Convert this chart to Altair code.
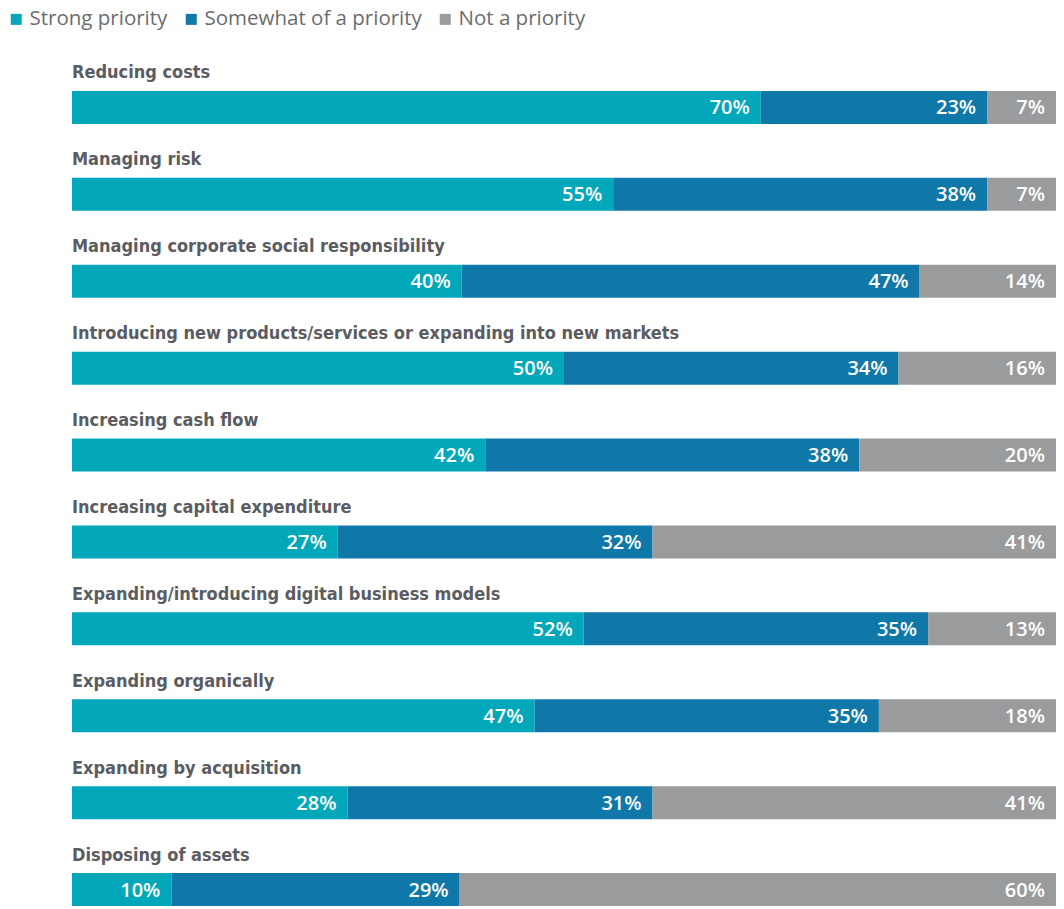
import altair as alt
import pandas as pd

categories = [
    "Reducing costs",
    "Managing risk",
    "Managing corporate social responsibility",
    "Introducing new products/services or expanding into new markets",
    "Increasing cash flow",
    "Increasing capital expenditure",
    "Expanding/introducing digital business models",
    "Expanding organically",
    "Expanding by acquisition",
    "Disposing of assets",
]
series = ["Strong priority", "Somewhat of a priority", "Not a priority"]
strong = [70, 55, 40, 50, 42, 27, 52, 47, 28, 10]
somewhat = [23, 38, 47, 34, 38, 32, 35, 35, 31, 29]
not_priority = [7, 7, 14, 16, 20, 41, 13, 18, 41, 60]
colors = ["#02A8BA", "#1077A9", "#9A9B9D"]

rows = []
for i, c in enumerate(categories):
    for j, (s, vals) in enumerate(zip(series, [strong, somewhat, not_priority])):
        rows.append({"category": c, "series": s, "order": j, "value": vals[i],
                     "label": f"{vals[i]}%"})
df = pd.DataFrame(rows)
cat_df = pd.DataFrame({"category": categories})

y_enc = alt.Y("category:N", sort=categories, axis=None,
              scale=alt.Scale(paddingInner=0, paddingOuter=0))

base = alt.Chart(df).transform_joinaggregate(
    total="sum(value)", groupby=["category"]
).transform_calculate(
    pct="datum.value / datum.total"
).transform_window(
    cum_end="sum(pct)", groupby=["category"], sort=[alt.SortField("order")],
    frame=[None, 0]
).transform_calculate(
    cum_start="datum.cum_end - datum.pct"
)

x_scale = alt.Scale(domain=[0, 1], nice=False, padding=0)

bars = base.mark_bar(size=33, strokeWidth=0).encode(
    x=alt.X("cum_start:Q", scale=x_scale, axis=None),
    x2="cum_end:Q",
    y=y_enc,
    color=alt.Color(
        "series:N",
        scale=alt.Scale(domain=series, range=colors),
        sort=series,
        legend=alt.Legend(
            title=None, orient="none", legendX=-66, legendY=-55,
            direction="horizontal", symbolType="square", symbolSize=121,
            symbolStrokeWidth=0, labelFontSize=20.5, labelFont="Open Sans",
            labelColor="#6b6c70", columnPadding=13, labelOffset=3,
            labelLimit=300, padding=0,
        ),
    ),
    order=alt.Order("order:Q"),
)

values = base.mark_text(
    align="right", baseline="middle", dx=-11, dy=1, color="white",
    font="Open Sans", fontSize=20, fontWeight=600,
).encode(
    x=alt.X("cum_end:Q", scale=x_scale),
    y=y_enc,
    text="label:N",
)

labels = alt.Chart(cat_df).mark_text(
    align="left", baseline="middle", dy=-34, color="#5b5c61",
    font="DejaVu Sans Condensed", fontSize=18, fontWeight="bold",
).encode(
    x=alt.value(0),
    y=y_enc,
    text="category:N",
)

chart = alt.layer(bars, values, labels).properties(
    width=984, height=869,
    autosize=alt.AutoSizeParams(type="none"),
    padding={"left": 64, "top": 56, "right": 0, "bottom": 0},
).configure_view(stroke=None)

chart.save("out.html", embed_options={"renderer": "svg", "actions": False})
